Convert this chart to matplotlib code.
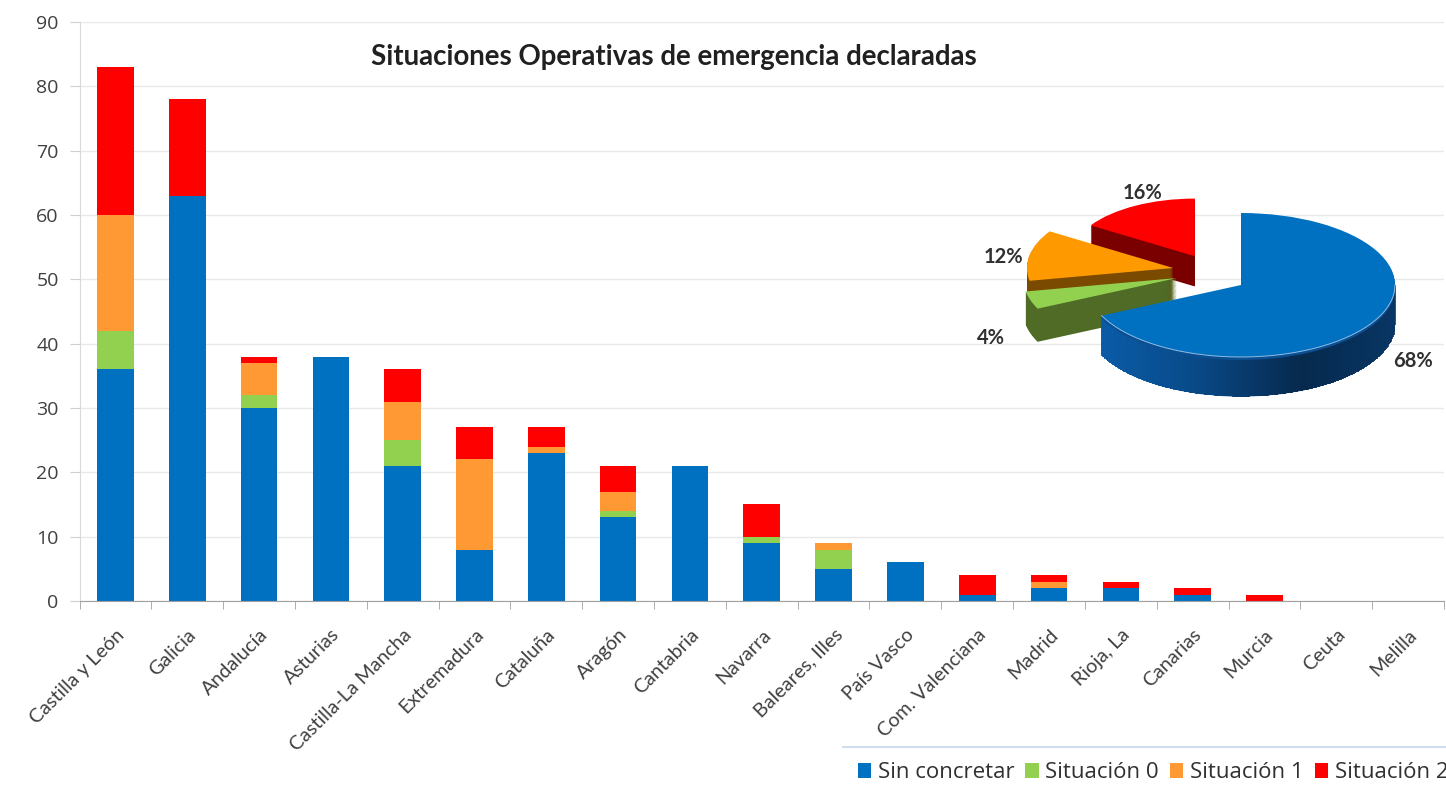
import numpy as np
import matplotlib
matplotlib.use("Agg")
import matplotlib.pyplot as plt
from matplotlib.lines import Line2D

regions = ["Castilla y León", "Galicia", "Andalucía", "Asturias", "Castilla-La Mancha",
           "Extremadura", "Cataluña", "Aragón", "Cantabria", "Navarra", "Baleares, Illes",
           "País Vasco", "Com. Valenciana", "Madrid", "Rioja, La", "Canarias", "Murcia",
           "Ceuta", "Melilla"]
sin_concretar = [36, 63, 30, 38, 21, 8, 23, 13, 21, 9, 5, 6, 1, 2, 2, 1, 0, 0, 0]
situacion_0 = [6, 0, 2, 0, 4, 0, 0, 1, 0, 1, 3, 0, 0, 0, 0, 0, 0, 0, 0]
situacion_1 = [18, 0, 5, 0, 6, 14, 1, 3, 0, 0, 1, 0, 0, 1, 0, 0, 0, 0, 0]
situacion_2 = [23, 15, 1, 0, 5, 5, 3, 4, 0, 5, 0, 0, 3, 1, 1, 1, 1, 0, 0]

series_names = ["Sin concretar", "Situación 0", "Situación 1", "Situación 2"]
pie_shares = [68, 4, 12, 16]

colors = ["#0070C0", "#92D050", "#FF9933", "#FF0000"]
pie_colors = ["#0070C0", "#92D050", "#FF9900", "#FF0000"]
side_colors = ["#0B4F91", "#4F6B25", "#7A4A00", "#7A0000"]

W, H = 1446, 790
plt.rcParams['font.family'] = ['Lato', 'DejaVu Sans']

fig = plt.figure(figsize=(W / 100, H / 100), dpi=100)
ax = fig.add_axes([79.5 / W, 1 - 601 / H, (1444 - 79.5) / W, (601 - 22) / H])

# stacked bars
x = np.arange(len(regions))
bottom = np.zeros(len(regions))
for name, vals, c in zip(series_names, [sin_concretar, situacion_0, situacion_1, situacion_2], colors):
    ax.bar(x, vals, 0.51, bottom=bottom, color=c, label=name, zorder=2)
    bottom += np.array(vals)

ax.set_xlim(-0.5, len(regions) - 0.5)
ax.set_ylim(0, 90)
ax.set_yticks(range(0, 91, 10))
ax.grid(axis="y", color="#E8E8E8", linewidth=1)
ax.set_axisbelow(True)
ax.set_xticks(x)
ax.set_xticklabels(regions, rotation=45, ha="right", rotation_mode="anchor", fontsize=14.2, color="#404040")
ax.tick_params(axis="x", length=0, pad=18)
ax.tick_params(axis="y", length=7, color="#D0D0D0", labelcolor="#404040", pad=8)
for lab in ax.get_yticklabels():
    lab.set_fontfamily("Open Sans")
    lab.set_fontsize(14)
ax.set_xticks(np.arange(-0.5, len(regions)), minor=True)
ax.tick_params(axis="x", which="minor", length=6, color="#A0A0A0")
for s in ["top", "right"]:
    ax.spines[s].set_visible(False)
ax.spines["left"].set_color("#D9D9D9")
ax.spines["bottom"].set_color("#A0A0A0")

fig.text(674 / W, 1 - 57 / H, "Situaciones Operativas de emergencia declaradas",
         ha="center", va="center", fontsize=19.9, fontweight="bold", color="#202020")

# fake 3d pie: squashed axes, pile of pies for the thickness
px_cx, px_cy, px_rx, px_ry = 1241, 285, 154, 72
left, right, top, low = 1000, 1446, 180, 410
pie_ax = fig.add_axes([left / W, 1 - low / H, (right - left) / W, (low - top) / H])
pie_ax.patch.set_alpha(0)

offsets = [(0, 0), (-0.416, 0.097), (-0.44, 0.236), (-0.30, 0.40)]
radii = [1.0, 1.0, 0.95, 0.80]
depths = [0.55, 0.46, 0.44, 0.42]
order = [4, 3, 2, 1]

for frac in np.linspace(1, 0, 40):
    wedges, _ = pie_ax.pie(pie_shares, startangle=90, counterclock=False,
                           colors=pie_colors if frac == 0 else side_colors,
                           wedgeprops={"linewidth": 0})
    for i, w in enumerate(wedges):
        w.set_center((offsets[i][0], offsets[i][1] - depths[i] * frac))
        w.set_radius(radii[i])
        w.set_zorder(order[i] + (1 - frac) * 0.5)

# shading and light rim on the front of the blue slice
rim_x = np.linspace(-0.905, 1, 400)
rim_y = -np.sqrt(1 - rim_x ** 2)
shade = np.interp(rim_x, [-0.905, -0.3, 0.4, 1], [0.0, 0.35, 1.0, 0.75])
c_a = np.array(matplotlib.colors.to_rgb("#0A5CA8"))
c_b = np.array(matplotlib.colors.to_rgb("#07294D"))
rim_cols = [tuple(c_a + (c_b - c_a) * s) for s in shade]
pie_ax.vlines(rim_x, rim_y - depths[0], rim_y, colors=rim_cols, linewidth=1.2, zorder=4.45)
pie_ax.plot(rim_x, rim_y, color="#8FBDE6", linewidth=0.7, zorder=4.7)

pie_ax.set_aspect("auto")
pie_ax.set_xlim((left - px_cx) / px_rx, (right - px_cx) / px_rx)
pie_ax.set_ylim((px_cy - low) / px_ry, (px_cy - top) / px_ry)

pie_label_pos = [(1413, 361), (991, 338), (1003, 257), (1143, 193)]
for share, (lx, ly) in zip(pie_shares, pie_label_pos):
    fig.text(lx / W, 1 - ly / H, f"{share}%", ha="center", va="center",
             fontsize=14.5, fontweight="bold", color="#303030")

# legend runs off the right edge like the original
handles, labels = ax.get_legend_handles_labels()
fig.legend(handles, labels, ncols=4, frameon=False, loc="lower left",
           bbox_to_anchor=(851 / W, 1 - 790 / H), labelcolor="#303030",
           prop={"family": "Open Sans", "size": 16},
           handlelength=0.6, handleheight=0.6, handletextpad=0.3, columnspacing=0.5,
           borderaxespad=0, borderpad=0.3)
fig.add_artist(Line2D([843 / W, 1], [1 - 747 / H] * 2, color="#C5D5E8", linewidth=1.2))

fig.savefig("out.png", dpi=100)
